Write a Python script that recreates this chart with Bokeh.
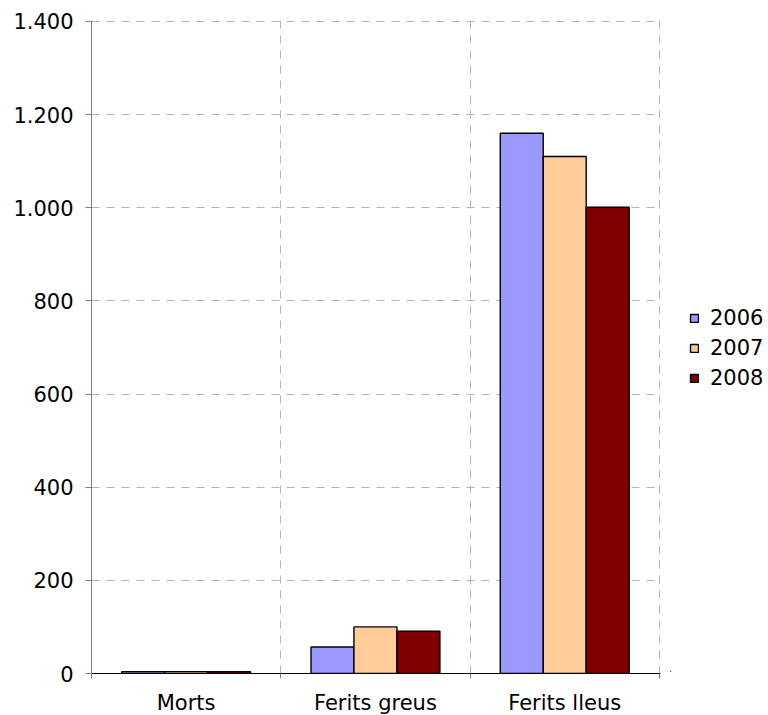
from bokeh.plotting import figure
from bokeh.layouts import row
from bokeh.models import ColumnDataSource, FixedTicker, LinearAxis, Legend, LegendItem, Range1d, Grid
from bokeh.embed import file_html
from bokeh.resources import INLINE

categories = ["Morts", "Ferits greus", "Ferits lleus"]
years = ["2006", "2007", "2008"]
values_2006 = [4, 57, 1160]
values_2007 = [4, 100, 1110]
values_2008 = [4, 91, 1001]
colors = ["#9999FF", "#FFCC99", "#800000"]
y_ticks = [0, 200, 400, 600, 800, 1000, 1200, 1400]
y_tick_labels = ["0", "200", "400", "600", "800", "1.000", "1.200", "1.400"]

FONT = "DejaVu Sans"
bar_w = 0.227
offsets = [-bar_w, 0.0, bar_w]

p = figure(frame_width=569, frame_height=653,
           min_border_left=91, min_border_top=20, min_border_right=10, min_border_bottom=42,
           x_range=Range1d(0, 3.006), y_range=Range1d(0, 1402),
           output_backend="svg", toolbar_location=None, x_axis_type=None, y_axis_type=None)
p.outline_line_color = None
p.background_fill_color = "white"
p.border_fill_color = "white"

# y axis
yaxis = LinearAxis(ticker=FixedTicker(ticks=y_ticks))
yaxis.major_label_overrides = {t: l for t, l in zip(y_ticks, y_tick_labels)}
yaxis.axis_line_color = "#808080"
yaxis.major_tick_line_color = "#808080"
yaxis.major_tick_out = 6
yaxis.major_tick_in = 0
yaxis.minor_tick_line_color = None
yaxis.major_label_text_font = FONT
yaxis.major_label_text_font_size = "21px"
yaxis.major_label_text_color = "black"
yaxis.major_label_standoff = 12
p.add_layout(yaxis, "left")

# x axis: boundary ticks (no labels)
boundaries = list(range(len(categories) + 1))
xaxis = LinearAxis(ticker=FixedTicker(ticks=boundaries))
xaxis.major_label_overrides = {b: "" for b in boundaries}
xaxis.major_label_text_font_size = "1px"
xaxis.major_label_text_alpha = 0
xaxis.axis_line_color = "black"
xaxis.major_tick_line_color = "#808080"
xaxis.major_tick_out = 5
xaxis.major_tick_in = 0
xaxis.minor_tick_line_color = None
xaxis.major_label_standoff = 0
p.add_layout(xaxis, "below")

# grids
ygrid = Grid(dimension=1, ticker=FixedTicker(ticks=y_ticks[1:]),
             grid_line_color="#b4b4b4", grid_line_dash="8 7", grid_line_width=1)
xgrid = Grid(dimension=0, ticker=FixedTicker(ticks=boundaries[1:]),
             grid_line_color="#b4b4b4", grid_line_dash="8 7", grid_line_width=1)
p.add_layout(ygrid)
p.add_layout(xgrid)

# bars
series = [values_2006, values_2007, values_2008]
for yr, vals, col, off in zip(years, series, colors, offsets):
    src = ColumnDataSource(dict(x=[i + 0.5 + off for i in range(len(categories))], top=vals))
    p.vbar(x="x", top="top", bottom=0, width=bar_w, source=src,
           fill_color=col, line_color="black", line_width=1.4)

# category labels: axis with ticks at category centres
centers = [i + 0.5 for i in range(len(categories))]
caxis = LinearAxis(ticker=FixedTicker(ticks=centers))
caxis.major_label_overrides = {c: n for c, n in zip(centers, categories)}
caxis.axis_line_color = None
caxis.major_tick_line_color = None
caxis.minor_tick_line_color = None
caxis.major_label_text_font = FONT
caxis.major_label_text_font_size = "21px"
caxis.major_label_text_color = "black"
caxis.major_label_standoff = 6
p.add_layout(caxis, "below")

# legend panel as a separate figure (proxy glyphs lie outside its visible range)
lf = figure(width=98, height=715, min_border=0,
            x_range=Range1d(0, 1), y_range=Range1d(0, 1),
            output_backend="svg", toolbar_location=None, x_axis_type=None, y_axis_type=None)
lf.outline_line_color = None
lf.xgrid.visible = False
lf.ygrid.visible = False
items = []
for yr, col in zip(years, colors):
    r = lf.vbar(x=[-10], top=[-5], bottom=-6, width=0.1,
                fill_color=col, line_color="black", line_width=1.4)
    items.append(LegendItem(label=yr, renderers=[r]))
legend = Legend(items=items, location=(19, 281), orientation="vertical")
legend.glyph_width = 10
legend.glyph_height = 10
legend.label_standoff = 11
legend.label_text_font = FONT
legend.label_text_font_size = "21px"
legend.label_text_color = "black"
legend.spacing = 6
legend.padding = 0
legend.margin = 0
legend.border_line_color = None
legend.background_fill_alpha = 0
lf.add_layout(legend)

layout = row(p, lf, spacing=0)
open("out.html", "w").write(file_html(layout, INLINE))
